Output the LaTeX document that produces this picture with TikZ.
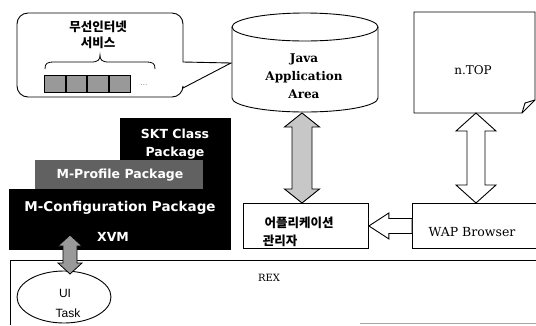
\documentclass[tikz,border=0pt]{standalone}
\usepackage{fontspec}
\newfontfamily\kr{Noto Sans CJK KR}
\newfontfamily\dsans{DejaVu Sans}
\newfontfamily\dserif{DejaVu Serif}
\newfontfamily\lsans{Liberation Sans}
\usetikzlibrary{calc,shapes.geometric}
\newcommand\fatarrow[6]{%
  \draw[#1] let \p1=(#2), \p2=(#3) in
    (\x1,\y1) -- (\x1+#4,\y1-#6) -- (\x1+#5,\y1-#6) -- (\x1+#5,\y2+#6)
    -- (\x1+#4,\y2+#6) -- (\x1,\y2) -- (\x1-#4,\y2+#6) -- (\x1-#5,\y2+#6)
    -- (\x1-#5,\y1-#6) -- (\x1-#4,\y1-#6) -- cycle;}
\tikzset{
  box/.style={draw, inner sep=0pt, anchor=north west, fill=white},
  blk/.style={fill=black, inner sep=0pt, anchor=north west},
  cell/.style={draw, fill=black!40, inner sep=0pt, anchor=north west, minimum width=20.75, minimum height=17},
  wtxt/.style={text=white, font=\dsans\bfseries\fontsize{12.5}{14}\selectfont, inner sep=0pt},
  krtxt/.style={font=\kr\bfseries\fontsize{12.5}{14}\selectfont, inner sep=0pt},
  srf/.style={font=\dserif\fontsize{12}{14}\selectfont, inner sep=0pt},
}
\begin{document}
\begin{tikzpicture}[x=1pt,y=-1pt,line width=0.9pt]
\useasboundingbox (0,0) rectangle (536,325);

% REX frame
\node[srf, font=\dserif\fontsize{10}{12}\selectfont] (rex) at (269,278) {REX};
\coordinate (rexTL) at (10,260);
\coordinate (rexTR) at (536,260);
\coordinate (rexBL) at (10,325);
\draw (rexBL) -- (rexTL) -- (rexTR);
\draw[black!35, line width=0.7pt] (360,323) -- (536,323);

% speech bubble
\draw[fill=white] (17,40) [rounded corners=11pt] -- (17,13) -- (183,13) [sharp corners] -- (183,62)
  -- (231,63) -- (183,88) [rounded corners=11pt] -- (183,97) -- (17,97) [sharp corners] -- (17,40);
\node[krtxt] (svc1) at (98,27) {무선인터넷};
\node[krtxt] (svc2) at (98,43) {서비스};
\draw[line width=0.8pt] (45,69) .. controls (45,63) and (47,62) .. (55,62) -- (91,62)
  .. controls (98,62) and (100,60) .. (100,55) .. controls (100,60) and (102,62) .. (109,62)
  -- (145,62) .. controls (153,62) and (155,63) .. (155,69);
\node[cell] (c1) at (44,75) {};
\node[cell] (c2) at (c1.north east) {};
\node[cell] (c3) at (c2.north east) {};
\node[cell] (c4) at (c3.north east) {};
\node[inner sep=0pt, font=\fontsize{7}{8}\selectfont] (dots) at (144,85) {...};

% cylinder
\draw[fill=white] (232,27) -- (232,98) arc[start angle=180, end angle=360, x radius=73pt, y radius=14pt] -- (378,27);
\draw (305,27) ellipse [x radius=73pt, y radius=14pt];
\coordinate (cylB) at (302,113);
\node[font=\dserif\bfseries\fontsize{12}{18}\selectfont, align=center, inner sep=0pt] (java) at (304,76) {Java\\Application\\Area};

% n.TOP page
\draw[fill=white] (414,12) -- (535,12) -- (535,100) -- (522,113) -- (414,113) -- cycle;
\draw (535,100) -- (525,103) -- (522,113);
\coordinate (ntopB) at (476,113);
\node[srf] (ntop) at (473,70) {n.TOP};

% app manager, WAP browser
\node[box, minimum width=125, minimum height=45] (mgr) at (243,203) {};
\node[krtxt] (mgr1) at (299,223) {어플리케이션};
\node[krtxt] (mgr2) at (280,241) {관리자};
\node[box, minimum width=124, minimum height=45] (wap) at (412,203) {};
\node[srf, font=\dserif\fontsize{12.5}{14}\selectfont] (wapt) at (472,232) {WAP Browser};

% stacks
\node[blk, minimum width=111, minimum height=71] (skt) at (120,118) {};
\node[wtxt] (skt1) at (175,134) {SKT Class};
\node[wtxt] (skt2) at (175,153) {Package};
\node[blk, fill=black!62, minimum width=168, minimum height=29] (mp) at (35,160) {};
\node[wtxt] (mpt) at (120,175) {M-Profile Package};
\node[blk, minimum width=222, minimum height=61] (mc) at (9,189) {};
\node[wtxt, font=\dsans\bfseries\fontsize{13.5}{15}\selectfont] (mct) at (120,208) {M-Configuration Package};
\node[wtxt] (xvm) at (113,237) {XVM};

% UI task
\node[draw, ellipse, fill=white, minimum width=94, minimum height=52, inner sep=0pt] (ui) at (64,297) {};
\node[font=\lsans\fontsize{12}{14}\selectfont, inner sep=0pt] (uit1) at (65,293) {UI};
\node[font=\lsans\fontsize{12}{14}\selectfont, inner sep=0pt] (uit2) at (68,313) {Task};
\coordinate (uiA) at (70,235);
\coordinate (uiB) at (70,274);

% arrows
\fatarrow{fill=black!22, line width=0.9pt}{cylB}{mgr.north -| cylB}{17.5pt}{10pt}{14pt}
\fatarrow{fill=white, line width=0.9pt}{ntopB}{wap.north -| ntopB}{20pt}{9pt}{18pt}
\fatarrow{fill=black!40, draw=black, line width=0.8pt}{uiA}{uiB}{12pt}{7pt}{11pt}
\draw[fill=white] let \p1=(mgr.east), \p2=(wap.west) in
  (\x1,\y1) -- (\x1+20pt,\y1+13pt) -- (\x1+20pt,\y1+7.5pt) -- (\x2,\y1+7.5pt)
  -- (\x2,\y1-7.5pt) -- (\x1+20pt,\y1-7.5pt) -- (\x1+20pt,\y1-13pt) -- cycle;
\end{tikzpicture}
\end{document}
